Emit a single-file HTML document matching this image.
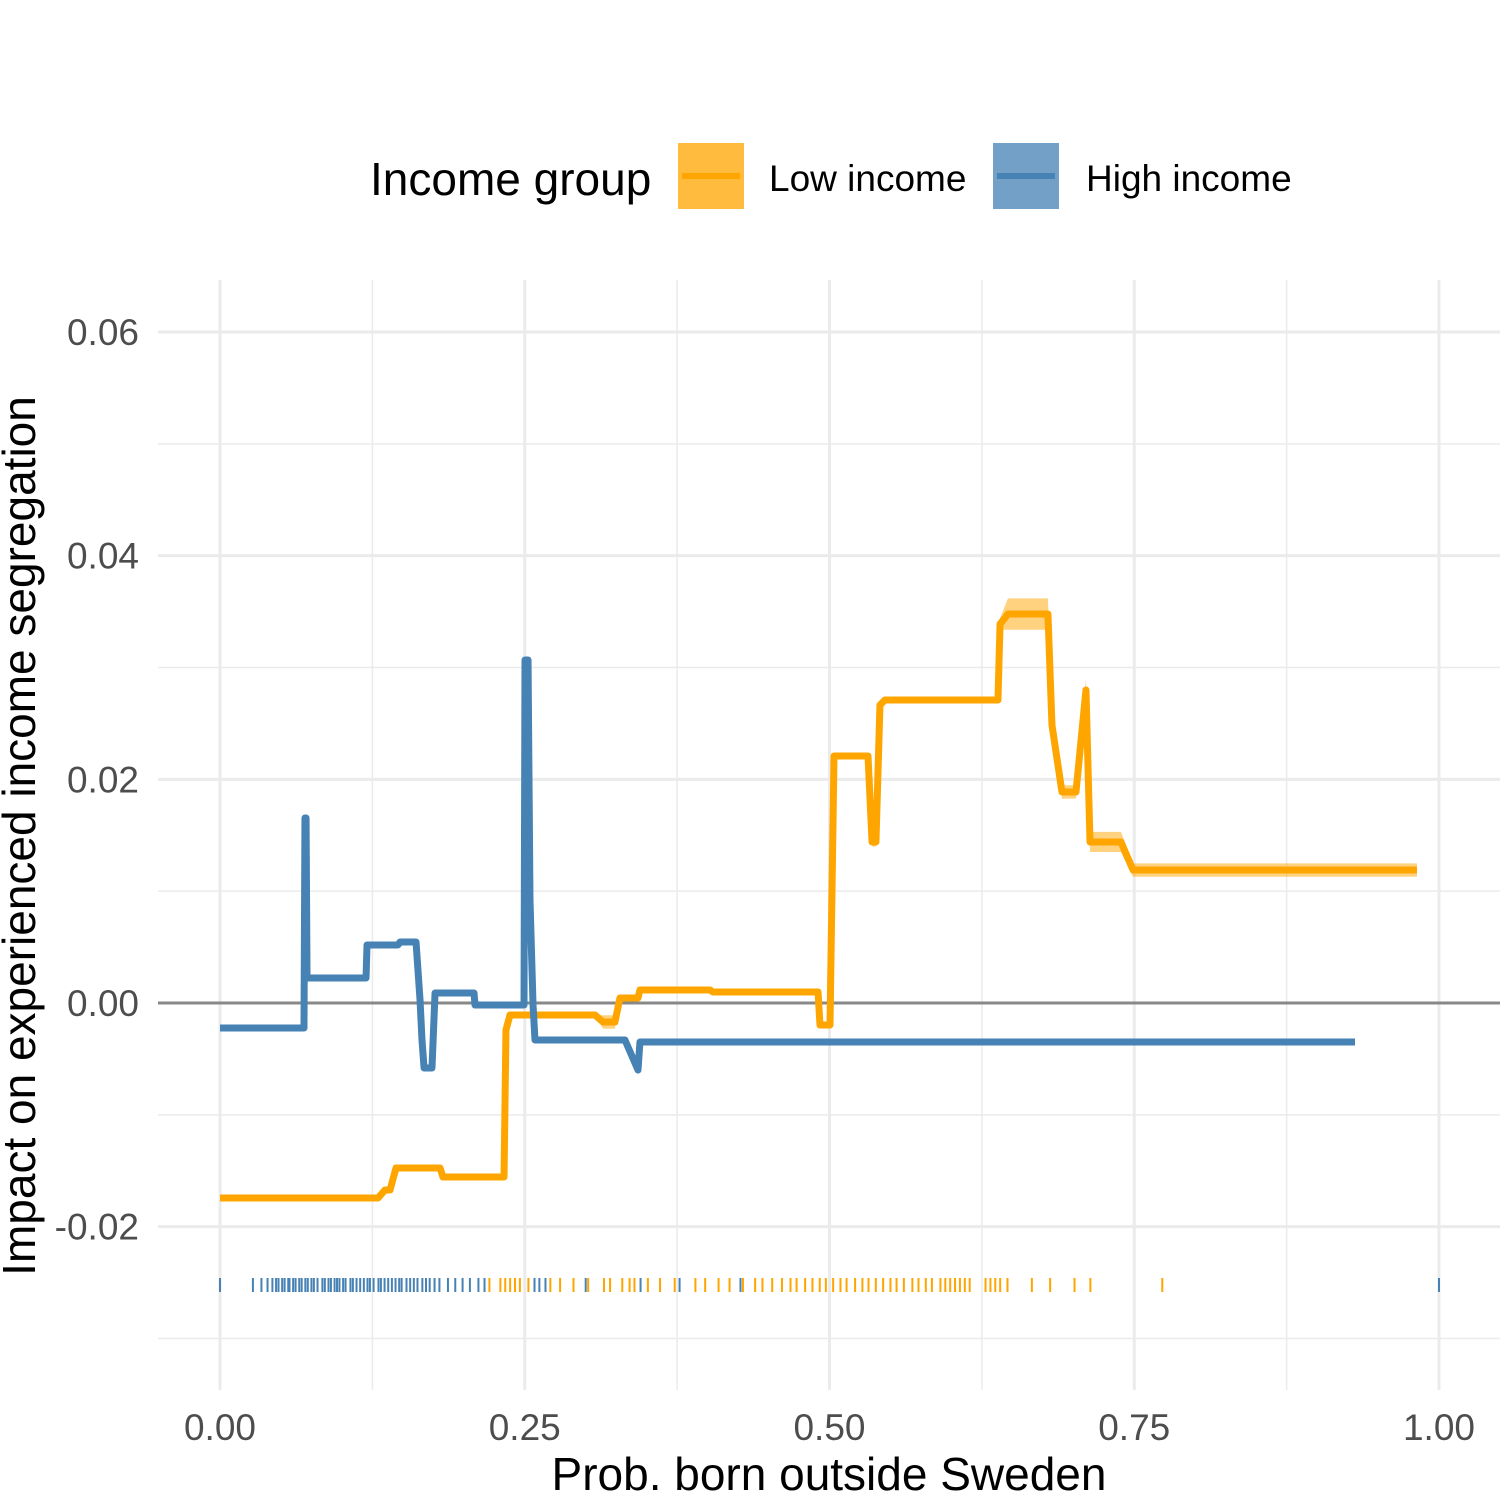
<!DOCTYPE html>
<html><head><meta charset="utf-8"><style>
html,body{margin:0;padding:0;background:#fff;}
svg{display:block;font-family:"Liberation Sans",sans-serif;}
</style></head><body>
<svg id="chart" width="1500" height="1500" viewBox="0 0 1500 1500">
<g id="grid"></g>
<g id="axes"></g>
<g id="series"></g>
<g id="rug"></g>
<g>
<text x="370" y="195" font-size="46" fill="#000">Income group</text>
<g>
<rect x="678" y="143" width="66" height="66" fill="#ffbb3d"/>
<line x1="682" y1="176" x2="740" y2="176" stroke="#ffa500" stroke-width="6"/>
<text x="769" y="191" font-size="37" fill="#000">Low income</text></g>
<g>
<rect x="993" y="143" width="66" height="66" fill="#73a0c6"/>
<line x1="997" y1="176" x2="1055" y2="176" stroke="#4682b4" stroke-width="6"/>
<text x="1086" y="191" font-size="37" fill="#000">High income</text></g>
</g>
<text x="829" y="1490" font-size="46" text-anchor="middle" fill="#000">Prob. born outside Sweden</text>
<text transform="translate(35,836) rotate(-90)" font-size="46" text-anchor="middle" fill="#000">Impact on experienced income segregation</text>
</svg>
<script>
const xTicks=[0,0.25,0.5,0.75,1];
const xTickLabels=["0.00","0.25","0.50","0.75","1.00"];
const yTicks=[-0.02,0,0.02,0.04,0.06];
const yTickLabels=["-0.02","0.00","0.02","0.04","0.06"];
const highX=[0,0.0689,0.0697,0.0706,0.0714,0.1198,0.1206,0.1460,0.1477,0.1608,0.1641,0.1657,0.1674,0.1739,0.1764,0.2084,0.2092,0.2494,0.2502,0.2527,0.2543,0.2568,0.2584,0.3322,0.3429,0.3445,0.9311];
const highY=[-0.00224,-0.00224,0.01654,0.01654,0.00224,0.00224,0.00519,0.00519,0.00545,0.00545,0.00027,-0.00331,-0.00581,-0.00581,0.00089,0.00089,-0.00018,-0.00018,0.03067,0.03067,0.00921,-0.00018,-0.00331,-0.00331,-0.00599,-0.00349,-0.00349];
const lowX=[0,0.1296,0.1354,0.1395,0.1444,0.1805,0.1829,0.2330,0.2346,0.2379,0.3076,0.3142,0.3240,0.3281,0.3429,0.3445,0.4020,0.4044,0.4906,0.4922,0.5004,0.5037,0.5316,0.5349,0.5381,0.5414,0.5455,0.6382,0.6399,0.6464,0.6792,0.6825,0.6907,0.7022,0.7104,0.7137,0.7391,0.7490,0.9819];
const lowY=[-0.01744,-0.01744,-0.01672,-0.01672,-0.01475,-0.01475,-0.01556,-0.01556,-0.00241,-0.00107,-0.00107,-0.00170,-0.00170,0.00045,0.00045,0.00116,0.00116,0.00098,0.00098,-0.00197,-0.00197,0.02209,0.02209,0.01440,0.01440,0.02665,0.02709,0.02709,0.03389,0.03478,0.03478,0.02486,0.01887,0.01887,0.02799,0.01440,0.01440,0.01189,0.01189];
const lowSE=[0,0,0,0,0,0,0,0,0,0,0,0.0006,0.0006,0,0,0,0,0,0,0,0,0,0,0.0004,0.0004,0,0,0,0.0005,0.0014,0.0014,0,0.0006,0.0006,0.001,0.0009,0.0009,0.0006,0.0006];
const highRug=[0,.027,.034,.039,.043,.046,.048,.051,.053,.056,.057,.060,.062,.065,.067,.070,.072,.075,.077,.080,.084,.086,.089,.091,.094,.096,.098,.101,.103,.107,.109,.112,.115,.118,.121,.123,.126,.130,.132,.135,.138,.141,.144,.147,.149,.153,.156,.159,.162,.166,.169,.172,.176,.180,.187,.193,.199,.205,.212,.217,.258,.262,.267,.300,.345,.377,.427,1.0];
const lowRug=[.221,.230,.234,.238,.242,.246,.253,.271,.279,.290,.302,.315,.320,.330,.336,.340,.351,.361,.373,.390,.398,.409,.418,.429,.439,.445,.453,.461,.468,.473,.480,.486,.492,.497,.503,.509,.514,.521,.527,.532,.538,.544,.550,.555,.561,.568,.573,.579,.584,.591,.595,.599,.603,.607,.611,.615,.628,.632,.636,.640,.646,.666,.681,.701,.714,.773];

const NS="http://www.w3.org/2000/svg";
const X=v=>220+v*1219;
const Y=v=>1003-v*11183;
function mk(tag,attrs,parent){const e=document.createElementNS(NS,tag);for(const k in attrs)e.setAttribute(k,attrs[k]);parent.appendChild(e);return e;}
const grid=document.getElementById('grid'),axes=document.getElementById('axes'),series=document.getElementById('series'),rug=document.getElementById('rug');
[0.125,0.375,0.625,0.875].forEach(v=>{const l=mk('line',{x1:X(v),x2:X(v),y1:280,y2:1390,stroke:'#ebebeb','stroke-width':1.5},grid);

});
[-0.03,-0.01,0.01,0.03,0.05].forEach(v=>{const l=mk('line',{x1:158,x2:1500,y1:Y(v),y2:Y(v),stroke:'#ebebeb','stroke-width':1.5},grid);

});
xTicks.forEach((v,i)=>{const l=mk('line',{x1:X(v),x2:X(v),y1:280,y2:1390,stroke:'#ebebeb','stroke-width':3},grid);


const t=mk('text',{x:X(v),y:1440,'font-size':37,'text-anchor':'middle',fill:'#4d4d4d'},axes);t.textContent=xTickLabels[i];

});
yTicks.forEach((v,i)=>{const l=mk('line',{x1:158,x2:1500,y1:Y(v),y2:Y(v),stroke:'#ebebeb','stroke-width':3},grid);


const t=mk('text',{x:139,y:Y(v)+13,'font-size':37,'text-anchor':'end',fill:'#4d4d4d'},axes);t.textContent=yTickLabels[i];

});
const z=mk('line',{x1:158,x2:1500,y1:Y(0),y2:Y(0),stroke:'#888','stroke-width':3},axes);


let up=lowX.map((x,i)=>X(x)+','+Y(lowY[i]+lowSE[i])),dn=lowX.map((x,i)=>X(x)+','+Y(lowY[i]-lowSE[i])).reverse();
const rb=mk('polygon',{points:up.concat(dn).join(' '),fill:'#ffa500','fill-opacity':0.5},series);


const lp=mk('polyline',{points:lowX.map((x,i)=>X(x)+','+Y(lowY[i])).join(' '),fill:'none',stroke:'#ffa500','stroke-width':7,'stroke-linejoin':'round'},series);


const hp=mk('polyline',{points:highX.map((x,i)=>X(x)+','+Y(highY[i])).join(' '),fill:'none',stroke:'#4682b4','stroke-width':7,'stroke-linejoin':'round'},series);


highRug.forEach(v=>{const l=mk('line',{x1:X(v),x2:X(v),y1:1278,y2:1292,stroke:'#4682b4','stroke-width':2},rug);

});
lowRug.forEach(v=>{const l=mk('line',{x1:X(v),x2:X(v),y1:1278,y2:1292,stroke:'#ffa500','stroke-width':2},rug);

});
</script>
</body></html>
